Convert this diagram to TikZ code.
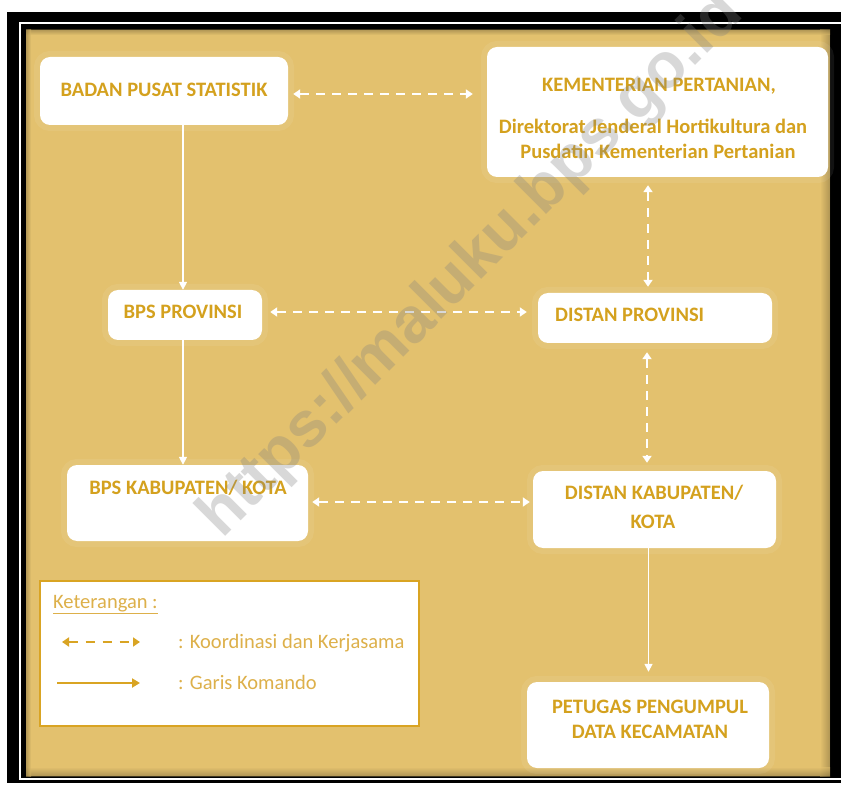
\documentclass[tikz,border=0pt]{standalone}
\usepackage{fontspec}
\setmainfont{Carlito}
\newfontfamily\wmfont{Liberation Sans}
\usetikzlibrary{arrows.meta,calc}
\definecolor{bggold}{HTML}{E3C16E}
\definecolor{txtgold}{HTML}{D4A11E}
\definecolor{leggold}{HTML}{DDB04A}
\definecolor{linegold}{HTML}{D9A423}
\tikzset{
  box/.style={fill=white, rounded corners=10pt, inner sep=0pt,
    preaction={draw=white, draw opacity=0.07, line width=12pt}},
  boxtxt/.style={text=txtgold, font=\bfseries\fontsize{20.5}{24}\selectfont, inner sep=0pt, text height=13pt, text depth=0pt},
  legtxt/.style={text=leggold, font=\fontsize{20.5}{24}\selectfont, inner sep=0pt, text height=13pt, text depth=0pt, anchor=west},
  cmdarrow/.style={draw=white, line width=1.6pt, -{Triangle[width=8pt,length=8pt]}},
  coordarrow/.style={draw=white, line width=2.4pt, dash pattern=on 9pt off 7pt, {Triangle[width=9pt,length=7pt]}-{Triangle[width=9pt,length=7pt]}},
  legcoord/.style={draw=linegold, line width=2.6pt, dash pattern=on 9pt off 8pt, {Triangle[width=9pt,length=7pt]}-{Triangle[width=9pt,length=7pt]}},
  legcmd/.style={draw=linegold, line width=2pt, -{Triangle[width=9pt,length=8pt]}}
}
\begin{document}
\begin{tikzpicture}[x=1pt,y=-1pt]
\useasboundingbox (0,0) rectangle (841,786);
\fill[white] (0,0) rectangle (841,786);
% frame
\fill[black] (7,12) rectangle (845,783);
\draw[white, line width=2pt] (20,23.5) rectangle (850,779);
\fill[bggold] (26,30) rectangle (830,776);
% inner shading of the gold panel
\shade[left color=bggold, right color=bggold!55!black, opacity=0.5] (820,30) rectangle (830,776);
\shade[top color=bggold, bottom color=bggold!55!black, opacity=0.5] (26,767) rectangle (830,776);
\shade[top color=bggold!60!black, bottom color=bggold, opacity=0.5] (26,30) rectangle (830,35);
\shade[left color=bggold!60!black, right color=bggold, opacity=0.5] (26,30) rectangle (31,776);

% boxes
\node[box, minimum width=248pt, minimum height=68pt] (bps) at (164,91) {};
\node[box, minimum width=341pt, minimum height=130pt] (kem) at (657.5,112) {};
\node[box, minimum width=154pt, minimum height=50pt] (bprov) at (185,315) {};
\node[box, minimum width=241pt, minimum height=76pt] (bkab) at (187.5,503) {};
\node[box, minimum width=234pt, minimum height=50pt] (dprov) at (655,318) {};
\node[box, minimum width=243pt, minimum height=77pt] (dkab) at (654.5,509.5) {};
\node[box, minimum width=242pt, minimum height=86pt] (pet) at (648,725) {};

% texts
\node[boxtxt] (bpsT) at (164,90) {BADAN PUSAT STATISTIK};
\node[boxtxt] (kemT1) at (659,85) {KEMENTERIAN PERTANIAN,};
\node[boxtxt] (kemT2) at (653,127) {Direktorat Jenderal Hortikultura dan};
\node[boxtxt] (kemT3) at (658,152) {Pusdatin Kementerian Pertanian};
\node[boxtxt] (bprovT) at (183,312) {BPS PROVINSI};
\node[boxtxt] (bkabT) at (188,488) {BPS KABUPATEN/ KOTA};
\node[boxtxt, anchor=west] (dprovT) at (555,315) {DISTAN PROVINSI};
\node[boxtxt] (dkabT1) at (654,493) {DISTAN KABUPATEN/};
\node[boxtxt] (dkabT2) at (653,522) {KOTA};
\node[boxtxt] (petT1) at (650,707) {PETUGAS PENGUMPUL};
\node[boxtxt] (petT2) at (650,732) {DATA KECAMATAN};

% command arrows
\draw[cmdarrow] ($(bprov.north |- bps.south)+(-2,0)$) -- ($(bprov.north)+(-2,0)$);
\draw[cmdarrow] ($(bprov.south)+(-2,0)$) -- ($(bprov.south |- bkab.north)+(-2,0)$);
\draw[cmdarrow] ($(dkab.south)+(-6,0)$) -- ($(dkab.south |- pet.north)+(-6,-10)$);

% coordination arrows
\draw[coordarrow] ($(bps.east)+(5,3)$) -- ($(bps.east -| kem.west)+(-14,3)$);
\draw[coordarrow] ($(bprov.east)+(8,-3)$) -- ($(bprov.east -| dprov.west)+(-11,-3)$);
\draw[coordarrow] ($(bkab.east)+(4,-1)$) -- ($(bkab.east -| dkab.west)+(-3,-1)$);
\draw[coordarrow] ($(kem.south)+(-9.5,8)$) -- ($(kem.south |- dprov.north)+(-9.5,-6)$);
\draw[coordarrow] ($(dprov.south)+(-8,9)$) -- ($(dprov.south |- dkab.north)+(-8,-8)$);

% legend
\node[draw=linegold, line width=1.5pt, fill=white, minimum width=379pt, minimum height=145pt, inner sep=0pt] (leg) at (229.5,653.5) {};
\node[legtxt] (legT) at (53,602) {\underline{Keterangan :}};
\coordinate (la1) at (62,642);
\coordinate (la2) at (140,642);
\coordinate (lb1) at (57,683);
\coordinate (lb2) at (140,683);
\draw[legcoord] (la1) -- (la2);
\draw[legcmd] (lb1) -- (lb2);
\node[legtxt] (legK) at (178,642) {: Koordinasi dan Kerjasama};
\node[legtxt] (legG) at (178,683) {: Garis Komando};

% watermark
\node[rotate=45, font=\wmfont\bfseries\fontsize{64}{64}\selectfont, text=black!50, text opacity=0.3, inner sep=0pt] (wm) at (472,266) {https://maluku.bps.go.id};
\end{tikzpicture}
\end{document}
